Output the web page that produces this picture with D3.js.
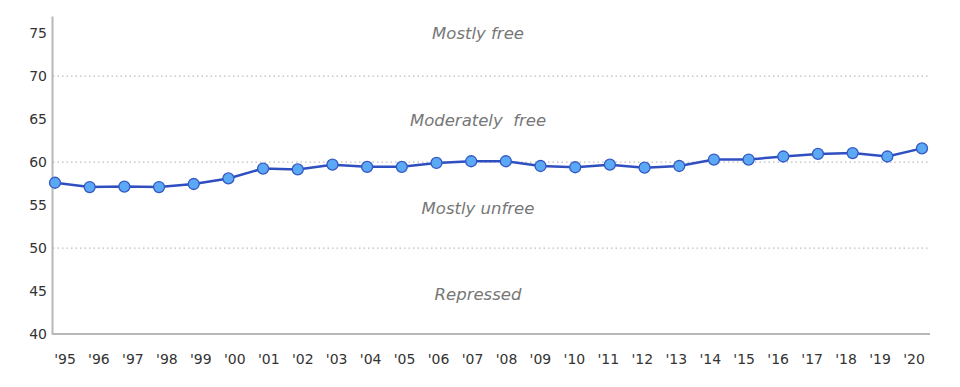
<!DOCTYPE html>
<html>
<head>
<meta charset="utf-8">
<script src="https://cdn.jsdelivr.net/npm/d3@7"></script>
<style>
body { margin: 0; background: #fff; }
text { font-family: "DejaVu Sans", sans-serif; }
</style>
</head>
<body>
<script>
var years = ["'95", "'96", "'97", "'98", "'99", "'00", "'01", "'02", "'03", "'04", "'05", "'06", "'07",
    "'08", "'09", "'10", "'11", "'12", "'13", "'14", "'15", "'16", "'17", "'18", "'19", "'20"];
var scores = [57.6, 57.1, 57.15, 57.1, 57.45, 58.1, 59.25, 59.15, 59.7, 59.45, 59.45, 59.9, 60.1,
    60.1, 59.55, 59.4, 59.7, 59.35, 59.55, 60.3, 60.3, 60.65, 60.95, 61.05, 60.65, 61.6];
var yTicks = [40, 45, 50, 55, 60, 65, 70, 75];
var gridValues = [50, 60, 70];
var bands = [
    { label: "Mostly free", value: 75 },
    { label: "Moderately  free", value: 64.9 },
    { label: "Mostly unfree", value: 54.6 },
    { label: "Repressed", value: 44.6 }
];

var width = 960,
    height = 387;

var svg = d3.select("body").append("svg")
    .attr("width", width)
    .attr("height", height);

// scales
var y = d3.scaleLinear().domain([40, 77]).range([334, 16]);
var x = d3.scalePoint().domain(years).range([55, 922]);
// the year labels sit on a slightly different spacing than the points
var xLabel = d3.scalePoint().domain(years).range([65, 914]);

// dotted grid lines
svg.selectAll(".grid")
    .data(gridValues)
    .enter().append("line")
    .attr("class", "grid")
    .attr("x1", 53)
    .attr("x2", 930)
    .attr("y1", d => y(d))
    .attr("y2", d => y(d))
    .attr("stroke", "#bdbdbd")
    .attr("stroke-width", 1.2)
    .attr("stroke-dasharray", "1.5,3");

// band names
svg.selectAll(".band")
    .data(bands)
    .enter().append("text")
    .attr("class", "band")
    .attr("x", 478)
    .attr("y", d => y(d.value))
    .attr("dy", "0.35em")
    .attr("text-anchor", "middle")
    .style("font-size", "16.5px")
    .style("font-style", "italic")
    .style("white-space", "pre")
    .attr("fill", "#777")
    .text(d => d.label);

// y axis
var yAxis = svg.append("g")
    .attr("transform", "translate(52,0)")
    .call(d3.axisLeft(y).tickValues(yTicks).tickSize(0).tickPadding(5));
yAxis.select(".domain").attr("stroke", "#b8b8b8").attr("stroke-width", 2);
yAxis.selectAll("text").style("font-size", "14px").attr("fill", "#333");

// x axis baseline
svg.append("line")
    .attr("x1", 52)
    .attr("x2", 930)
    .attr("y1", y(40))
    .attr("y2", y(40))
    .attr("stroke", "#b8b8b8")
    .attr("stroke-width", 2);

// year labels
svg.selectAll(".year")
    .data(years)
    .enter().append("text")
    .attr("class", "year")
    .attr("x", d => xLabel(d))
    .attr("y", 359)
    .attr("dy", "0.35em")
    .attr("text-anchor", "middle")
    .style("font-size", "14px")
    .attr("fill", "#333")
    .text(d => d);

// the line
var valueline = d3.line()
    .x((d, i) => x(years[i]))
    .y(d => y(d));

svg.append("path")
    .datum(scores)
    .attr("d", valueline)
    .attr("fill", "none")
    .attr("stroke", "#2f4fc0")
    .attr("stroke-width", 2.5);

// points
svg.selectAll(".dot")
    .data(scores)
    .enter().append("circle")
    .attr("class", "dot")
    .attr("cx", (d, i) => x(years[i]))
    .attr("cy", d => y(d))
    .attr("r", 5.5)
    .attr("fill", "#5ba8f5")
    .attr("stroke", "#3559c4")
    .attr("stroke-width", 1.3);
</script>
</body>
</html>
